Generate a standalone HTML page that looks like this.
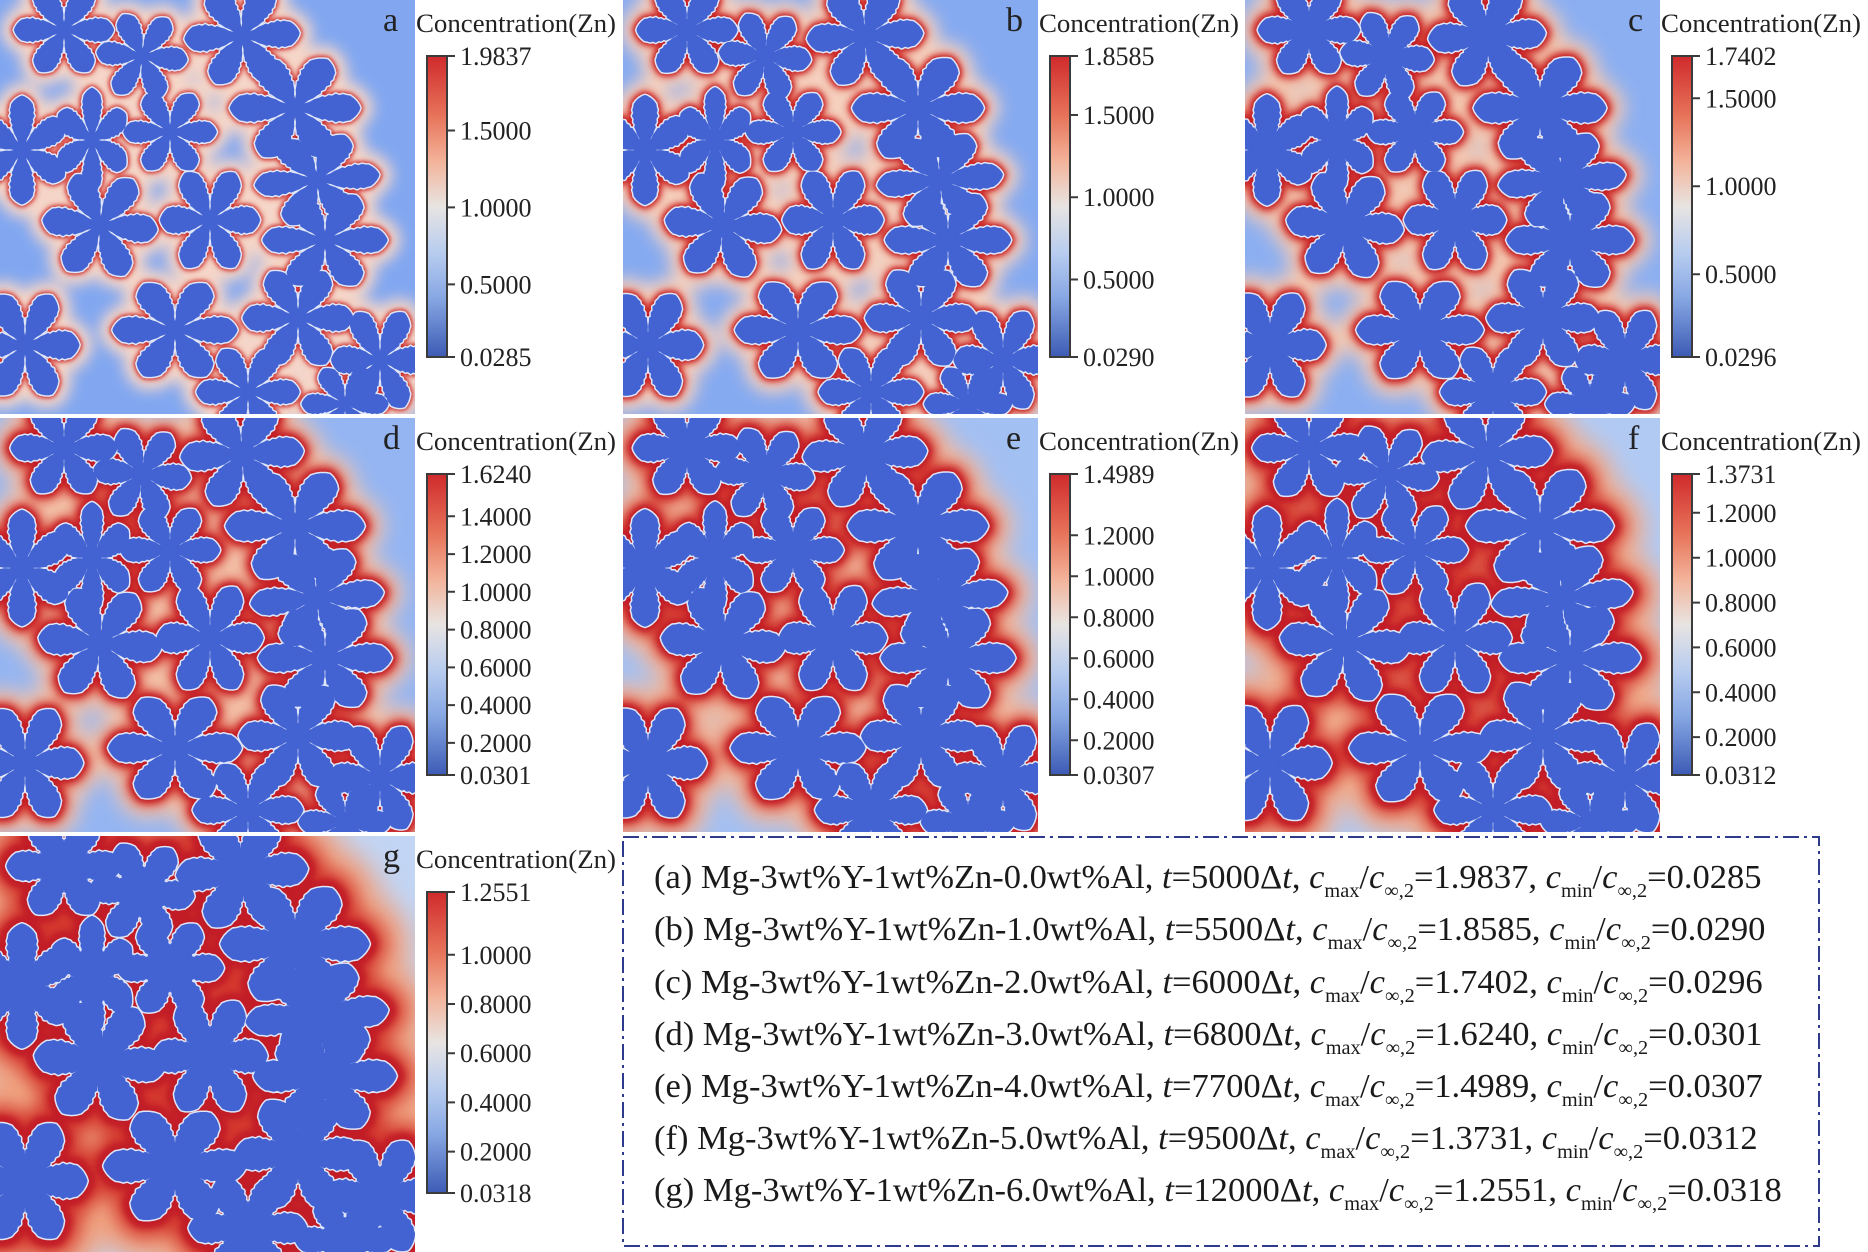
<!DOCTYPE html>
<html><head><meta charset="utf-8">
<style>
html,body{margin:0;padding:0;background:#fff;width:1868px;height:1252px;overflow:hidden}
svg{display:block}
.ln{font-size:34px;fill:#1a1a1a}
.cl{font-size:26px;fill:#222}
.pl{font-size:34px;fill:#222}
</style></head>
<body>
<svg width="1868" height="1252" viewBox="0 0 1868 1252" xmlns="http://www.w3.org/2000/svg" xmlns:xlink="http://www.w3.org/1999/xlink" font-family="'Liberation Serif', 'DejaVu Serif', serif">
<defs>
<polygon id="arm" vector-effect="non-scaling-stroke" points="7.8,4.5 12,6 16,8.5 20,10 23,11.5 25,10.5 28,12.5 31,12 34,14 37,12.5 40,13.5 43,12.5 46,12 49,9.5 51.5,6.5 53.5,3 54.5,0 53.5,-3 51.5,-6.5 49,-9.5 46,-12 43,-12.5 40,-13.5 37,-12.5 34,-14 31,-12 28,-12.5 25,-10.5 23,-11.5 20,-10 16,-8.5 12,-6 7.8,-4.5"/>
<g id="dd">
<circle r="9.2" vector-effect="non-scaling-stroke"/>
<use href="#arm"/>
<use href="#arm" transform="rotate(60)"/>
<use href="#arm" transform="rotate(120)"/>
<use href="#arm" transform="rotate(180)"/>
<use href="#arm" transform="rotate(240)"/>
<use href="#arm" transform="rotate(300)"/>
</g>
<g id="ddB"><use href="#dd" transform="scale(1.06)"/></g>
<g id="ddC"><use href="#dd" transform="scale(1.12)"/></g>

<g id="ds" stroke-linejoin="round">
<use href="#dd" transform="translate(64 30) scale(0.92 0.88)"/>
<use href="#dd" transform="translate(142 56) rotate(5) scale(0.84 0.84)"/>
<use href="#dd" transform="translate(242 36) rotate(-3) scale(1.06 0.98)"/>
<use href="#dd" transform="translate(295 108) scale(1.2 1.03)"/>
<use href="#dd" transform="translate(22 150) scale(0.9 1.0) rotate(30)"/>
<use href="#dd" transform="translate(92 140) scale(0.72 0.96) rotate(30)"/>
<use href="#dd" transform="translate(170 132) scale(0.86 0.8)"/>
<use href="#dd" transform="translate(317 180) rotate(-5) scale(1.15 0.9)"/>
<use href="#dd" transform="translate(100 225) rotate(5) scale(1.06 1.02)"/>
<use href="#dd" transform="translate(210 220) scale(0.92 1.0)"/>
<use href="#dd" transform="translate(325 240) scale(1.15 0.95)"/>
<use href="#dd" transform="translate(25 345) scale(1.0 1.05)"/>
<use href="#dd" transform="translate(175 330) scale(1.15 0.98)"/>
<use href="#dd" transform="translate(298 318) scale(1.02 0.98)"/>
<use href="#dd" transform="translate(248 392) scale(0.95 0.9)"/>
<use href="#dd" transform="translate(380 360) scale(0.9 1.0)"/>
<use href="#dd" transform="translate(345 404) scale(0.8 0.75)"/>
</g>
<g id="dsB" stroke-linejoin="round">
<use href="#ddB" transform="translate(64 30) scale(0.92 0.88)"/>
<use href="#ddB" transform="translate(142 56) rotate(5) scale(0.84 0.84)"/>
<use href="#ddB" transform="translate(242 36) rotate(-3) scale(1.06 0.98)"/>
<use href="#ddB" transform="translate(295 108) scale(1.2 1.03)"/>
<use href="#ddB" transform="translate(22 150) scale(0.9 1.0) rotate(30)"/>
<use href="#ddB" transform="translate(92 140) scale(0.72 0.96) rotate(30)"/>
<use href="#ddB" transform="translate(170 132) scale(0.86 0.8)"/>
<use href="#ddB" transform="translate(317 180) rotate(-5) scale(1.15 0.9)"/>
<use href="#ddB" transform="translate(100 225) rotate(5) scale(1.06 1.02)"/>
<use href="#ddB" transform="translate(210 220) scale(0.92 1.0)"/>
<use href="#ddB" transform="translate(325 240) scale(1.15 0.95)"/>
<use href="#ddB" transform="translate(25 345) scale(1.0 1.05)"/>
<use href="#ddB" transform="translate(175 330) scale(1.15 0.98)"/>
<use href="#ddB" transform="translate(298 318) scale(1.02 0.98)"/>
<use href="#ddB" transform="translate(248 392) scale(0.95 0.9)"/>
<use href="#ddB" transform="translate(380 360) scale(0.9 1.0)"/>
<use href="#ddB" transform="translate(345 404) scale(0.8 0.75)"/>
</g>
<g id="dsC" stroke-linejoin="round">
<use href="#ddC" transform="translate(64 30) scale(0.92 0.88)"/>
<use href="#ddC" transform="translate(142 56) rotate(5) scale(0.84 0.84)"/>
<use href="#ddC" transform="translate(242 36) rotate(-3) scale(1.06 0.98)"/>
<use href="#ddC" transform="translate(295 108) scale(1.2 1.03)"/>
<use href="#ddC" transform="translate(22 150) scale(0.9 1.0) rotate(30)"/>
<use href="#ddC" transform="translate(92 140) scale(0.72 0.96) rotate(30)"/>
<use href="#ddC" transform="translate(170 132) scale(0.86 0.8)"/>
<use href="#ddC" transform="translate(317 180) rotate(-5) scale(1.15 0.9)"/>
<use href="#ddC" transform="translate(100 225) rotate(5) scale(1.06 1.02)"/>
<use href="#ddC" transform="translate(210 220) scale(0.92 1.0)"/>
<use href="#ddC" transform="translate(325 240) scale(1.15 0.95)"/>
<use href="#ddC" transform="translate(25 345) scale(1.0 1.05)"/>
<use href="#ddC" transform="translate(175 330) scale(1.15 0.98)"/>
<use href="#ddC" transform="translate(298 318) scale(1.02 0.98)"/>
<use href="#ddC" transform="translate(248 392) scale(0.95 0.9)"/>
<use href="#ddC" transform="translate(380 360) scale(0.9 1.0)"/>
<use href="#ddC" transform="translate(345 404) scale(0.8 0.75)"/>
</g>

<clipPath id="pc"><rect x="0" y="0" width="415" height="414"/></clipPath>
<clipPath id="pc3"><rect x="0" y="0" width="415" height="416"/></clipPath>
<linearGradient id="cb" x1="0" y1="0" x2="0" y2="1">
<stop offset="0" stop-color="#d02a2c"/>
<stop offset="0.2" stop-color="#e7745a"/>
<stop offset="0.35" stop-color="#f3b39a"/>
<stop offset="0.5" stop-color="#e8e4e2"/>
<stop offset="0.65" stop-color="#b9cdef"/>
<stop offset="0.8" stop-color="#88a8e4"/>
<stop offset="1" stop-color="#3d5bb5"/>
</linearGradient>
<filter id="b2" filterUnits="userSpaceOnUse" x="-100" y="-100" width="620" height="620"><feGaussianBlur stdDeviation="2"/></filter>
<filter id="b3" filterUnits="userSpaceOnUse" x="-100" y="-100" width="620" height="620"><feGaussianBlur stdDeviation="3"/></filter>
<filter id="b4" filterUnits="userSpaceOnUse" x="-100" y="-100" width="620" height="620"><feGaussianBlur stdDeviation="4"/></filter>
<filter id="b5" filterUnits="userSpaceOnUse" x="-100" y="-100" width="620" height="620"><feGaussianBlur stdDeviation="5"/></filter>
<filter id="b6" filterUnits="userSpaceOnUse" x="-100" y="-100" width="620" height="620"><feGaussianBlur stdDeviation="6"/></filter>
<filter id="b7" filterUnits="userSpaceOnUse" x="-100" y="-100" width="620" height="620"><feGaussianBlur stdDeviation="7"/></filter>
<filter id="b8" filterUnits="userSpaceOnUse" x="-100" y="-100" width="620" height="620"><feGaussianBlur stdDeviation="8"/></filter>
<filter id="b9" filterUnits="userSpaceOnUse" x="-100" y="-100" width="620" height="620"><feGaussianBlur stdDeviation="9"/></filter>
<filter id="b10" filterUnits="userSpaceOnUse" x="-100" y="-100" width="620" height="620"><feGaussianBlur stdDeviation="10"/></filter>
<filter id="b11" filterUnits="userSpaceOnUse" x="-100" y="-100" width="620" height="620"><feGaussianBlur stdDeviation="11"/></filter>
<filter id="b12" filterUnits="userSpaceOnUse" x="-100" y="-100" width="620" height="620"><feGaussianBlur stdDeviation="12"/></filter>
<filter id="b13" filterUnits="userSpaceOnUse" x="-100" y="-100" width="620" height="620"><feGaussianBlur stdDeviation="13"/></filter>
</defs>

<rect x="0" y="0" width="1868" height="1252" fill="#ffffff"/>

<!-- Panel a -->
<g transform="translate(0 0)">
<g clip-path="url(#pc)">
<rect width="415" height="416" fill="#82a7f0"/>
<use href="#ds" fill="#f5d6c8" stroke="#f5d6c8" stroke-width="26" filter="url(#b7)"/>
<use href="#ds" fill="#d3392d" stroke="#d3392d" stroke-width="5" filter="url(#b3)"/>
<use href="#ds" fill="#c21f27" stroke="#c21f27" stroke-width="2" filter="url(#b2)"/>
<use href="#ds" fill="#dfe6f7" stroke="#dfe6f7" stroke-width="3"/>
<use href="#ds" fill="#4363d3" stroke="none"/>
</g>
<text class="pl" x="383" y="31">a</text>
<text class="cl" x="416" y="32" textLength="200" lengthAdjust="spacingAndGlyphs">Concentration(Zn)</text>
<rect x="427" y="56" width="20" height="301" fill="url(#cb)" stroke="#3b3b3b" stroke-width="2"/>
<path d="M447 56h8M447 130.5h8M447 207.4h8M447 284.4h8M447 357h8" stroke="#3b3b3b" stroke-width="2"/>
<text class="cl" x="460" y="65">1.9837</text>
<text class="cl" x="460" y="139.5">1.5000</text>
<text class="cl" x="460" y="216.4">1.0000</text>
<text class="cl" x="460" y="293.4">0.5000</text>
<text class="cl" x="460" y="366">0.0285</text>
</g>

<!-- Panel b -->
<g transform="translate(623 0)">
<g clip-path="url(#pc)">
<rect width="415" height="416" fill="#86aaf0"/>
<use href="#ds" fill="#f5d0be" stroke="#f5d0be" stroke-width="32" filter="url(#b8)"/>
<use href="#ds" fill="#d3392d" stroke="#d3392d" stroke-width="10" filter="url(#b4)"/>
<use href="#ds" fill="#c21f27" stroke="#c21f27" stroke-width="5" filter="url(#b2)"/>
<use href="#ds" fill="#dfe6f7" stroke="#dfe6f7" stroke-width="4"/>
<use href="#ds" fill="#4363d3" stroke="#4363d3" stroke-width="1"/>
</g>
<text class="pl" x="383" y="31">b</text>
<text class="cl" x="416" y="32" textLength="200" lengthAdjust="spacingAndGlyphs">Concentration(Zn)</text>
<rect x="427" y="56" width="20" height="301" fill="url(#cb)" stroke="#3b3b3b" stroke-width="2"/>
<path d="M447 56h8M447 115h8M447 197.2h8M447 279.5h8M447 357h8" stroke="#3b3b3b" stroke-width="2"/>
<text class="cl" x="460" y="65">1.8585</text>
<text class="cl" x="460" y="124">1.5000</text>
<text class="cl" x="460" y="206.2">1.0000</text>
<text class="cl" x="460" y="288.5">0.5000</text>
<text class="cl" x="460" y="366">0.0290</text>
</g>

<!-- Panel c -->
<g transform="translate(1245 0)">
<g clip-path="url(#pc)">
<rect width="415" height="416" fill="#8caff1"/>
<use href="#ds" fill="#f4c9b2" stroke="#f4c9b2" stroke-width="38" filter="url(#b9)"/>
<use href="#ds" fill="#d3392d" stroke="#d3392d" stroke-width="14" filter="url(#b5)"/>
<use href="#ds" fill="#c21f27" stroke="#c21f27" stroke-width="8" filter="url(#b3)"/>
<use href="#ds" fill="#dfe6f7" stroke="#dfe6f7" stroke-width="5"/>
<use href="#ds" fill="#4363d3" stroke="#4363d3" stroke-width="2"/>
</g>
<text class="pl" x="383" y="31">c</text>
<text class="cl" x="416" y="32" textLength="200" lengthAdjust="spacingAndGlyphs">Concentration(Zn)</text>
<rect x="427" y="56" width="20" height="301" fill="url(#cb)" stroke="#3b3b3b" stroke-width="2"/>
<path d="M447 56h8M447 98.3h8M447 186.2h8M447 274.2h8M447 357h8" stroke="#3b3b3b" stroke-width="2"/>
<text class="cl" x="460" y="65">1.7402</text>
<text class="cl" x="460" y="107.3">1.5000</text>
<text class="cl" x="460" y="195.2">1.0000</text>
<text class="cl" x="460" y="283.2">0.5000</text>
<text class="cl" x="460" y="366">0.0296</text>
</g>

<!-- Panel d -->
<g transform="translate(0 418)">
<g clip-path="url(#pc)">
<rect width="415" height="416" fill="#94b5f2"/>
<use href="#dsB" fill="#f3c3aa" stroke="#f3c3aa" stroke-width="40" filter="url(#b10)"/>
<use href="#dsB" fill="#d3392d" stroke="#d3392d" stroke-width="16" filter="url(#b6)"/>
<use href="#dsB" fill="#c21f27" stroke="#c21f27" stroke-width="9" filter="url(#b3)"/>
<use href="#dsB" fill="#dfe6f7" stroke="#dfe6f7" stroke-width="4"/>
<use href="#dsB" fill="#4363d3" stroke="#4363d3" stroke-width="1"/>
</g>
<text class="pl" x="383" y="31">d</text>
<text class="cl" x="416" y="32" textLength="200" lengthAdjust="spacingAndGlyphs">Concentration(Zn)</text>
<rect x="427" y="56" width="20" height="301" fill="url(#cb)" stroke="#3b3b3b" stroke-width="2"/>
<path d="M447 56h8M447 98.3h8M447 136.1h8M447 173.8h8M447 211.6h8M447 249.4h8M447 287.1h8M447 324.9h8M447 357h8" stroke="#3b3b3b" stroke-width="2"/>
<text class="cl" x="460" y="65">1.6240</text>
<text class="cl" x="460" y="107.3">1.4000</text>
<text class="cl" x="460" y="145.1">1.2000</text>
<text class="cl" x="460" y="182.8">1.0000</text>
<text class="cl" x="460" y="220.6">0.8000</text>
<text class="cl" x="460" y="258.4">0.6000</text>
<text class="cl" x="460" y="296.1">0.4000</text>
<text class="cl" x="460" y="333.9">0.2000</text>
<text class="cl" x="460" y="366">0.0301</text>
</g>

<!-- Panel e -->
<g transform="translate(623 418)">
<g clip-path="url(#pc)">
<rect width="415" height="416" fill="#a3c0f3"/>
<use href="#dsB" fill="#f2b89c" stroke="#f2b89c" stroke-width="52" filter="url(#b11)"/>
<use href="#dsB" fill="#d3392d" stroke="#d3392d" stroke-width="22" filter="url(#b7)"/>
<use href="#dsB" fill="#c21f27" stroke="#c21f27" stroke-width="12" filter="url(#b3)"/>
<use href="#dsB" fill="#dfe6f7" stroke="#dfe6f7" stroke-width="5"/>
<use href="#dsB" fill="#4363d3" stroke="#4363d3" stroke-width="2"/>
</g>
<text class="pl" x="383" y="31">e</text>
<text class="cl" x="416" y="32" textLength="200" lengthAdjust="spacingAndGlyphs">Concentration(Zn)</text>
<rect x="427" y="56" width="20" height="301" fill="url(#cb)" stroke="#3b3b3b" stroke-width="2"/>
<path d="M447 56h8M447 117.3h8M447 158.3h8M447 199.3h8M447 240.3h8M447 281.3h8M447 322.3h8M447 357h8" stroke="#3b3b3b" stroke-width="2"/>
<text class="cl" x="460" y="65">1.4989</text>
<text class="cl" x="460" y="126.3">1.2000</text>
<text class="cl" x="460" y="167.3">1.0000</text>
<text class="cl" x="460" y="208.3">0.8000</text>
<text class="cl" x="460" y="249.3">0.6000</text>
<text class="cl" x="460" y="290.3">0.4000</text>
<text class="cl" x="460" y="331.3">0.2000</text>
<text class="cl" x="460" y="366">0.0307</text>
</g>

<!-- Panel f -->
<g transform="translate(1245 418)">
<g clip-path="url(#pc)">
<rect width="415" height="416" fill="#b1caf4"/>
<use href="#dsC" fill="#f1ad8e" stroke="#f1ad8e" stroke-width="64" filter="url(#b12)"/>
<use href="#dsC" fill="#d3392d" stroke="#d3392d" stroke-width="28" filter="url(#b8)"/>
<use href="#dsC" fill="#c21f27" stroke="#c21f27" stroke-width="15" filter="url(#b3)"/>
<use href="#dsC" fill="#dfe6f7" stroke="#dfe6f7" stroke-width="4"/>
<use href="#dsC" fill="#4363d3" stroke="#4363d3" stroke-width="1"/>
</g>
<text class="pl" x="383" y="31">f</text>
<text class="cl" x="416" y="32" textLength="200" lengthAdjust="spacingAndGlyphs">Concentration(Zn)</text>
<rect x="427" y="56" width="20" height="301" fill="url(#cb)" stroke="#3b3b3b" stroke-width="2"/>
<path d="M447 56h8M447 94.8h8M447 139.7h8M447 184.6h8M447 229.4h8M447 274.3h8M447 319.1h8M447 357h8" stroke="#3b3b3b" stroke-width="2"/>
<text class="cl" x="460" y="65">1.3731</text>
<text class="cl" x="460" y="103.8">1.2000</text>
<text class="cl" x="460" y="148.7">1.0000</text>
<text class="cl" x="460" y="193.6">0.8000</text>
<text class="cl" x="460" y="238.4">0.6000</text>
<text class="cl" x="460" y="283.3">0.4000</text>
<text class="cl" x="460" y="328.1">0.2000</text>
<text class="cl" x="460" y="366">0.0312</text>
</g>

<!-- Panel g -->
<g transform="translate(0 836)">
<g clip-path="url(#pc3)">
<rect width="415" height="416" fill="#c2d5f4"/>
<use href="#dsC" fill="#f0a381" stroke="#f0a381" stroke-width="84" filter="url(#b13)"/>
<use href="#dsC" fill="#d3392d" stroke="#d3392d" stroke-width="38" filter="url(#b9)"/>
<use href="#dsC" fill="#c21f27" stroke="#c21f27" stroke-width="20" filter="url(#b3)"/>
<use href="#dsC" fill="#dfe6f7" stroke="#dfe6f7" stroke-width="6"/>
<use href="#dsC" fill="#4363d3" stroke="#4363d3" stroke-width="3"/>
</g>
<text class="pl" x="383" y="31">g</text>
<text class="cl" x="416" y="32" textLength="200" lengthAdjust="spacingAndGlyphs">Concentration(Zn)</text>
<rect x="427" y="56" width="20" height="301" fill="url(#cb)" stroke="#3b3b3b" stroke-width="2"/>
<path d="M447 56h8M447 118.8h8M447 168h8M447 217.2h8M447 266.4h8M447 315.6h8M447 357h8" stroke="#3b3b3b" stroke-width="2"/>
<text class="cl" x="460" y="65">1.2551</text>
<text class="cl" x="460" y="127.8">1.0000</text>
<text class="cl" x="460" y="177">0.8000</text>
<text class="cl" x="460" y="226.2">0.6000</text>
<text class="cl" x="460" y="275.4">0.4000</text>
<text class="cl" x="460" y="324.6">0.2000</text>
<text class="cl" x="460" y="366">0.0318</text>
</g>

<!-- Text box -->
<rect x="623" y="837" width="1196" height="409" fill="none" stroke="#2e3a8c" stroke-width="2" stroke-dasharray="16 5 3 5"/>

<text class="ln" x="654" y="888">(a) Mg-3wt%Y-1wt%Zn-0.0wt%Al, <tspan font-style="italic">t</tspan>=5000Δ<tspan font-style="italic">t</tspan>, <tspan font-style="italic">c</tspan><tspan font-size="20" dy="9">max</tspan><tspan dy="-9">/</tspan><tspan font-style="italic">c</tspan><tspan font-size="20" dy="9">∞,2</tspan><tspan dy="-9">=1.9837, </tspan><tspan font-style="italic">c</tspan><tspan font-size="20" dy="9">min</tspan><tspan dy="-9">/</tspan><tspan font-style="italic">c</tspan><tspan font-size="20" dy="9">∞,2</tspan><tspan dy="-9">=0.0285</tspan></text>

<text class="ln" x="654" y="940">(b) Mg-3wt%Y-1wt%Zn-1.0wt%Al, <tspan font-style="italic">t</tspan>=5500Δ<tspan font-style="italic">t</tspan>, <tspan font-style="italic">c</tspan><tspan font-size="20" dy="9">max</tspan><tspan dy="-9">/</tspan><tspan font-style="italic">c</tspan><tspan font-size="20" dy="9">∞,2</tspan><tspan dy="-9">=1.8585, </tspan><tspan font-style="italic">c</tspan><tspan font-size="20" dy="9">min</tspan><tspan dy="-9">/</tspan><tspan font-style="italic">c</tspan><tspan font-size="20" dy="9">∞,2</tspan><tspan dy="-9">=0.0290</tspan></text>

<text class="ln" x="654" y="993">(c) Mg-3wt%Y-1wt%Zn-2.0wt%Al, <tspan font-style="italic">t</tspan>=6000Δ<tspan font-style="italic">t</tspan>, <tspan font-style="italic">c</tspan><tspan font-size="20" dy="9">max</tspan><tspan dy="-9">/</tspan><tspan font-style="italic">c</tspan><tspan font-size="20" dy="9">∞,2</tspan><tspan dy="-9">=1.7402, </tspan><tspan font-style="italic">c</tspan><tspan font-size="20" dy="9">min</tspan><tspan dy="-9">/</tspan><tspan font-style="italic">c</tspan><tspan font-size="20" dy="9">∞,2</tspan><tspan dy="-9">=0.0296</tspan></text>

<text class="ln" x="654" y="1045">(d) Mg-3wt%Y-1wt%Zn-3.0wt%Al, <tspan font-style="italic">t</tspan>=6800Δ<tspan font-style="italic">t</tspan>, <tspan font-style="italic">c</tspan><tspan font-size="20" dy="9">max</tspan><tspan dy="-9">/</tspan><tspan font-style="italic">c</tspan><tspan font-size="20" dy="9">∞,2</tspan><tspan dy="-9">=1.6240, </tspan><tspan font-style="italic">c</tspan><tspan font-size="20" dy="9">min</tspan><tspan dy="-9">/</tspan><tspan font-style="italic">c</tspan><tspan font-size="20" dy="9">∞,2</tspan><tspan dy="-9">=0.0301</tspan></text>

<text class="ln" x="654" y="1097">(e) Mg-3wt%Y-1wt%Zn-4.0wt%Al, <tspan font-style="italic">t</tspan>=7700Δ<tspan font-style="italic">t</tspan>, <tspan font-style="italic">c</tspan><tspan font-size="20" dy="9">max</tspan><tspan dy="-9">/</tspan><tspan font-style="italic">c</tspan><tspan font-size="20" dy="9">∞,2</tspan><tspan dy="-9">=1.4989, </tspan><tspan font-style="italic">c</tspan><tspan font-size="20" dy="9">min</tspan><tspan dy="-9">/</tspan><tspan font-style="italic">c</tspan><tspan font-size="20" dy="9">∞,2</tspan><tspan dy="-9">=0.0307</tspan></text>

<text class="ln" x="654" y="1149">(f) Mg-3wt%Y-1wt%Zn-5.0wt%Al, <tspan font-style="italic">t</tspan>=9500Δ<tspan font-style="italic">t</tspan>, <tspan font-style="italic">c</tspan><tspan font-size="20" dy="9">max</tspan><tspan dy="-9">/</tspan><tspan font-style="italic">c</tspan><tspan font-size="20" dy="9">∞,2</tspan><tspan dy="-9">=1.3731, </tspan><tspan font-style="italic">c</tspan><tspan font-size="20" dy="9">min</tspan><tspan dy="-9">/</tspan><tspan font-style="italic">c</tspan><tspan font-size="20" dy="9">∞,2</tspan><tspan dy="-9">=0.0312</tspan></text>

<text class="ln" x="654" y="1201">(g) Mg-3wt%Y-1wt%Zn-6.0wt%Al, <tspan font-style="italic">t</tspan>=12000Δ<tspan font-style="italic">t</tspan>, <tspan font-style="italic">c</tspan><tspan font-size="20" dy="9">max</tspan><tspan dy="-9">/</tspan><tspan font-style="italic">c</tspan><tspan font-size="20" dy="9">∞,2</tspan><tspan dy="-9">=1.2551, </tspan><tspan font-style="italic">c</tspan><tspan font-size="20" dy="9">min</tspan><tspan dy="-9">/</tspan><tspan font-style="italic">c</tspan><tspan font-size="20" dy="9">∞,2</tspan><tspan dy="-9">=0.0318</tspan></text>
</svg>
<script>
(function(){
  var W=[1108,1112,1109,1109,1109,1104,1128];
  var L=document.querySelectorAll('.ln');
  for(var i=0;i<L.length;i++){
    try{
      var w=L[i].getComputedTextLength();
      if(w>0){
        var k=W[i]/w;
        L[i].setAttribute('transform','translate(654 0) scale('+k+' 1) translate(-654 0)');
      }
    }catch(e){}
  }
})();
</script>
</body></html>
